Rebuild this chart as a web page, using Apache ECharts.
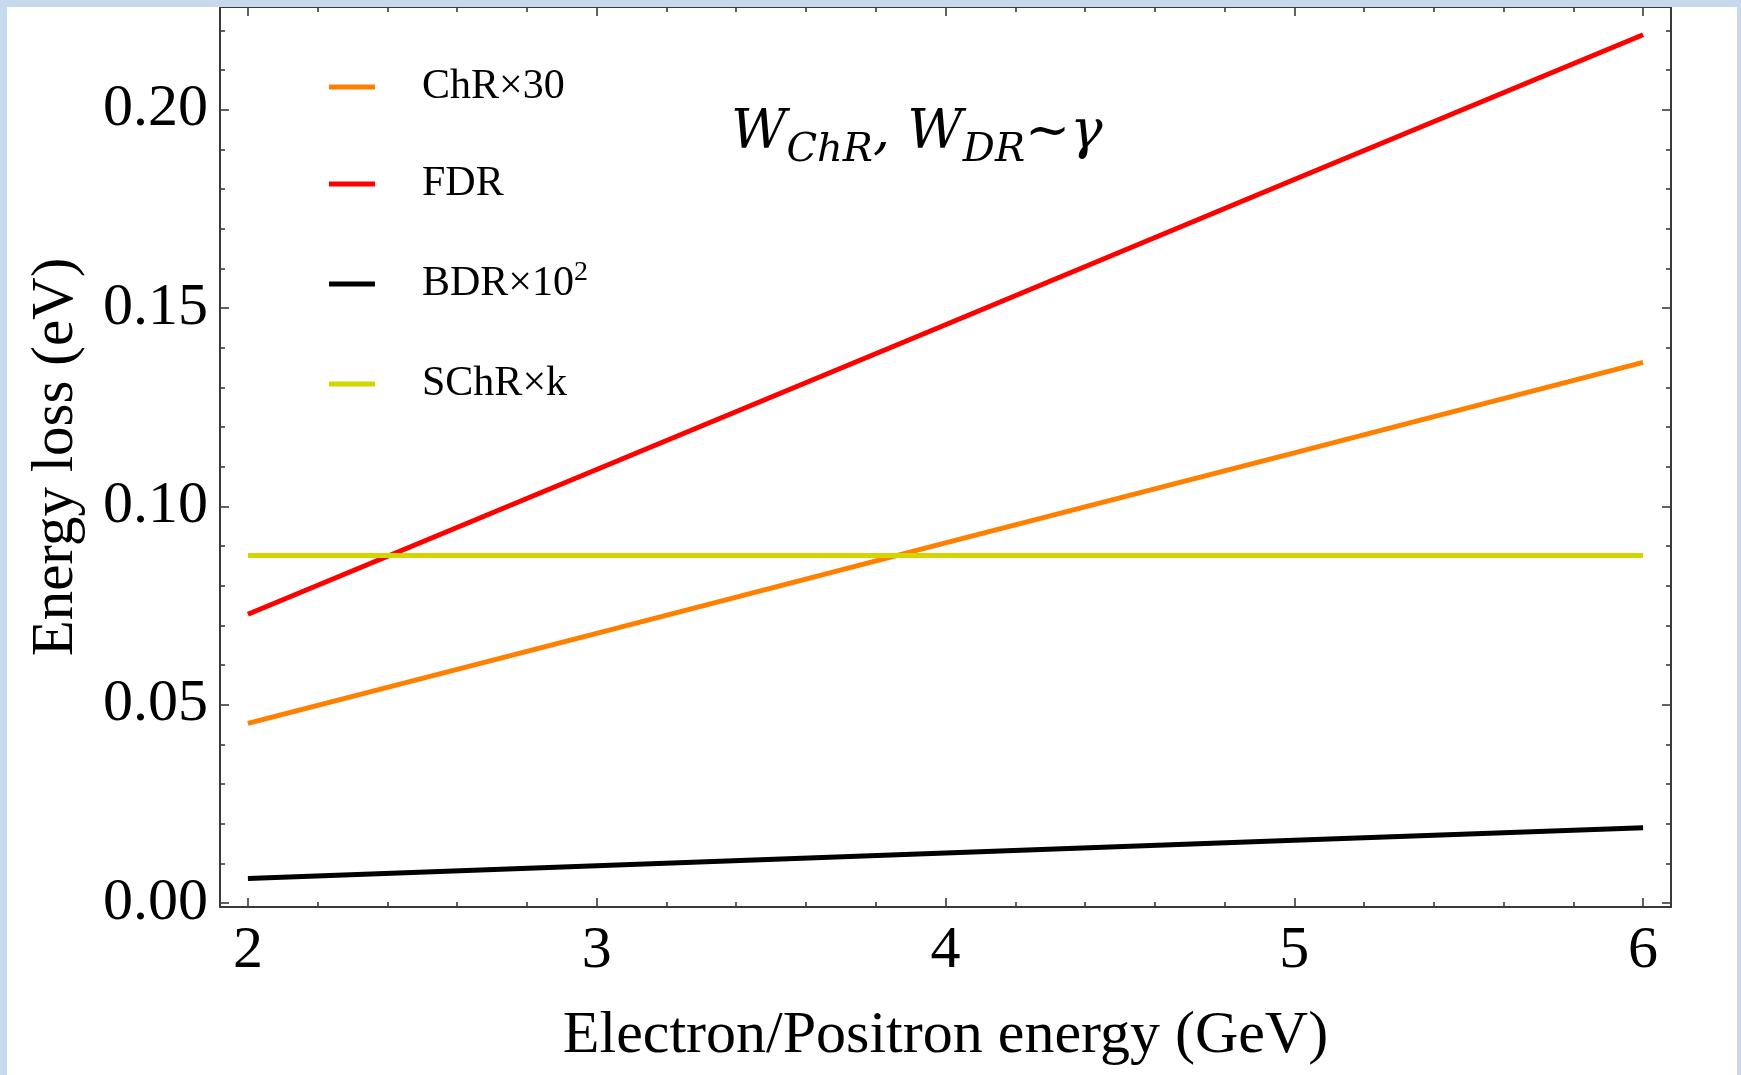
<!DOCTYPE html>
<html>
<head>
<meta charset="utf-8">
<script src="https://cdn.jsdelivr.net/npm/echarts@6.0.0/dist/echarts.min.js"></script>
<style>
html,body{margin:0;padding:0;background:#fff;}
#main{width:1741px;height:1075px;}
</style>
</head>
<body>
<div id="main"></div>
<script>
// values, energy in GeV, loss in eV
var energy = [2, 3, 4, 5, 6];
var chr30  = [0.0453, 0.0680, 0.0908, 0.1135, 0.1363];
var fdr    = [0.0728, 0.1093, 0.1458, 0.1824, 0.2189];
var bdr100 = [0.0062, 0.0094, 0.0126, 0.0158, 0.0190];
var schrK  = [0.0876, 0.0876, 0.0876, 0.0876, 0.0876];
var names  = ['ChR×30', 'FDR', 'BDR×10²', 'SChR×k'];
var colors = ['#ff8000', '#ff0000', '#000000', '#d4d400'];
var xMajor = [2, 3, 4, 5, 6];
var yMajor = [0, 0.05, 0.10, 0.15, 0.20];

var xMinor = [], yMinor = [];
for (var k = 1; k < 20; k++) if (k % 5) xMinor.push(+(2 + k * 0.2).toFixed(2));
for (var k = 1; k <= 22; k++) if (k % 5) yMinor.push(+(k * 0.01).toFixed(2));

var FONT = '"Liberation Serif", "Times New Roman", serif';
var xMin = 1.92, xMax = 6.08, yMin = -0.001, yMax = 0.2259;

function pairs(ys){
	return energy.map(function(x, i){ return [x, ys[i]]; });
}

// one axis per side and tick size, so major and minor ticks can sit at custom places
function xAx(pos, ticks, len, line, label){
	return {
		type: 'value', position: pos, min: xMin, max: xMax,
		splitLine: {show: false},
		axisLine: {show: line, onZero: false, lineStyle: {color: '#3a3a3a', width: 2}},
		axisTick: {show: true, inside: true, length: len, customValues: ticks, lineStyle: {color: '#3a3a3a', width: 1.6}},
		axisLabel: label ? {show: true, customValues: xMajor, margin: 14, fontFamily: FONT, fontSize: 60, color: '#000'} : {show: false},
		name: label ? 'Electron/Positron energy (GeV)' : '',
		nameLocation: 'middle', nameGap: 99,
		nameTextStyle: {fontFamily: FONT, fontSize: 60, color: '#000'}
	};
}
function yAx(pos, ticks, len, line, label){
	return {
		type: 'value', position: pos, min: yMin, max: yMax,
		splitLine: {show: false},
		axisLine: {show: line, onZero: false, lineStyle: {color: '#3a3a3a', width: 2}},
		axisTick: {show: true, inside: true, length: len, customValues: ticks, lineStyle: {color: '#3a3a3a', width: 1.6}},
		axisLabel: label ? {show: true, customValues: yMajor, margin: 12, fontFamily: FONT, fontSize: 60, color: '#000',
			formatter: function(v){ return v.toFixed(2); }} : {show: false},
		name: label ? 'Energy loss (eV)' : '',
		nameLocation: 'middle', nameGap: 134, nameRotate: 90,
		nameTextStyle: {fontFamily: FONT, fontSize: 59, color: '#000'}
	};
}

var series = [chr30, fdr, bdr100, schrK].map(function(ys, i){
	return {
		name: names[i], type: 'line', xAxisIndex: 0, yAxisIndex: 0,
		data: pairs(ys), showSymbol: false, symbol: 'none',
		lineStyle: {color: colors[i], width: 5},
		itemStyle: {color: colors[i]}
	};
});

var chart = echarts.init(document.getElementById('main'));
chart.setOption({
	animation: false,
	backgroundColor: '#fff',
	grid: {left: 220, right: 70, top: 7, bottom: 168, containLabel: false, outerBoundsMode: 'none'},
	xAxis: [
		xAx('bottom', xMajor, 9, true, true),
		xAx('bottom', xMinor, 5, false, false),
		xAx('top', xMajor, 9, true, false),
		xAx('top', xMinor, 5, false, false)
	],
	yAxis: [
		yAx('left', yMajor, 9, true, true),
		yAx('left', yMinor, 5, false, false),
		yAx('right', yMajor, 9, true, false),
		yAx('right', yMinor, 5, false, false)
	],
	legend: {
		orient: 'vertical', left: 324, top: 60, itemGap: 53,
		itemWidth: 46, itemHeight: 5, icon: 'rect',
		data: names,
		formatter: function(n){ return n === 'BDR×10²' ? 'BDR×10{sup|2}' : n; },
		textStyle: {
			fontFamily: FONT, fontSize: 42, color: '#000', lineHeight: 44, padding: [0, 0, 0, 42],
			rich: {sup: {fontFamily: FONT, fontSize: 28, color: '#000', lineHeight: 44, padding: [0, 0, 22, 0]}}
		}
	},
	graphic: [
		{type: 'rect', silent: true, z: 100, shape: {x: 0, y: 0, width: 1741, height: 7}, style: {fill: '#c6d9ef'}},
		{type: 'rect', silent: true, z: 100, shape: {x: 0, y: 0, width: 7, height: 1075}, style: {fill: '#c6d9ef'}},
		{type: 'rect', silent: true, z: 100, shape: {x: 1737, y: 0, width: 4, height: 1075}, style: {fill: '#c6d9ef'}},
		{
			type: 'text', z: 50, x: 731, y: 134,
			style: {
				text: '{w|W}{s|ChR}{w|, W}{s|DR}{t|~}{w|γ}',
				align: 'left', verticalAlign: 'middle',
				rich: {
					w: {fontFamily: '"DejaVu Serif", serif', fontStyle: 'italic', fontSize: 54, lineHeight: 74, fill: '#000', verticalAlign: 'middle'},
					s: {fontFamily: '"DejaVu Serif", serif', fontStyle: 'italic', fontSize: 40, lineHeight: 22, fill: '#000', verticalAlign: 'bottom'},
					t: {fontFamily: '"DejaVu Serif", serif', fontSize: 54, lineHeight: 74, fill: '#000', verticalAlign: 'middle'}
				}
			}
		}
	],
	series: series
});
</script>
</body>
</html>
